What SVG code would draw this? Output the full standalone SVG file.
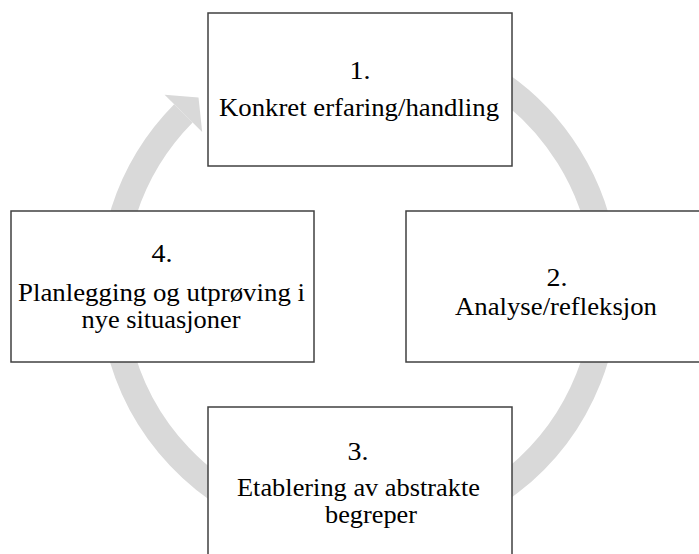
<svg xmlns="http://www.w3.org/2000/svg" width="699" height="554" viewBox="0 0 699 554">
<style>
.box{fill:#ffffff;stroke:#404040;stroke-width:1.5}
.t{font-family:"Liberation Serif","Times New Roman",serif;font-size:24.5px;fill:#000000;text-anchor:middle}
.ring{fill:none;stroke:#d9d9d9;stroke-width:26}
.head{fill:#d9d9d9}
</style>
<rect width="699" height="554" fill="#ffffff"/>
<g id="connectors">
<path class="ring" d="M 235.5 73.1 A 247 247 0 1 1 183.4 113.3"/>
<polygon class="head" points="164.6,94.7 202.2,131.9 198.5,97.5"/>
</g>
<g id="node1">
<rect class="box" x="208" y="13" width="304" height="153"/>
<text class="t" x="360" y="79" textLength="21" lengthAdjust="spacingAndGlyphs">1.</text>
<text class="t" x="359" y="116" textLength="280" lengthAdjust="spacingAndGlyphs">Konkret erfaring/handling</text>
</g>
<g id="node2">
<rect class="box" x="406" y="211" width="300" height="151"/>
<text class="t" x="557" y="286" textLength="21" lengthAdjust="spacingAndGlyphs">2.</text>
<text class="t" x="556" y="315" textLength="202" lengthAdjust="spacingAndGlyphs">Analyse/refleksjon</text>
</g>
<g id="node3">
<rect class="box" x="208" y="407" width="304" height="160"/>
<text class="t" x="358" y="460" textLength="21" lengthAdjust="spacingAndGlyphs">3.</text>
<text class="t" x="358.5" y="495.5" textLength="243" lengthAdjust="spacingAndGlyphs">Etablering av abstrakte</text>
<text class="t" x="371" y="523" textLength="92" lengthAdjust="spacingAndGlyphs">begreper</text>
</g>
<g id="node4">
<rect class="box" x="11" y="211" width="303" height="151"/>
<text class="t" x="162" y="262" textLength="21" lengthAdjust="spacingAndGlyphs">4.</text>
<text class="t" x="161.5" y="300.5" textLength="287" lengthAdjust="spacingAndGlyphs">Planlegging og utprøving i</text>
<text class="t" x="161" y="328" textLength="159" lengthAdjust="spacingAndGlyphs">nye situasjoner</text>
</g>
</svg>
